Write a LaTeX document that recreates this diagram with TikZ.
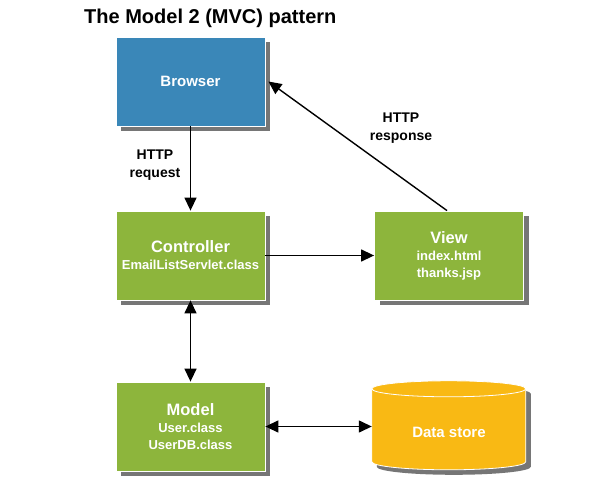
\documentclass[tikz,border=0pt]{standalone}
\usepackage{fontspec}
\setmainfont{Liberation Sans}
\usetikzlibrary{arrows.meta,shadows}
\definecolor{bblue}{HTML}{3A87B8}
\definecolor{bgreen}{HTML}{8DB53C}
\definecolor{byellow}{HTML}{F9B914}
\definecolor{shadowgray}{HTML}{5E5E5E}
\tikzset{
  boxstyle/.style={minimum width=149pt, minimum height=89pt, inner sep=0pt, draw=white, line width=0.8pt,
    align=center, text=white, font=\bfseries\fontsize{13}{17}\selectfont,
    drop shadow={shadow xshift=5pt, shadow yshift=-5pt, fill=shadowgray, opacity=0.85}},
  hd/.style={font=\bfseries\fontsize{16.5}{20}\selectfont},
  arr/.style={line width=1.4pt, -{Triangle[length=13pt,width=12pt]}},
  darr/.style={line width=1.4pt, {Triangle[length=13pt,width=12pt]}-{Triangle[length=13pt,width=12pt]}},
  lbl/.style={font=\bfseries\fontsize{14}{18}\selectfont, align=center}
}
\begin{document}
\begin{tikzpicture}[x=1pt,y=-1pt]
\useasboundingbox (0,0) rectangle (597,497);
\node[font=\bfseries\fontsize{20}{24}\selectfont, anchor=west, inner sep=0pt] (title) at (84,18) {The Model 2 (MVC) pattern};
\node[boxstyle, fill=bblue] (browser) at (190.5,81.5) {\fontsize{15}{18}\selectfont Browser};
\node[boxstyle, fill=bgreen] (ctrl) at (190.5,255.5) {{\fontsize{16.5}{20}\selectfont Controller}\\EmailListServlet.class};
\node[boxstyle, fill=bgreen] (view) at (449,255.5) {{\fontsize{16.5}{18}\selectfont View}\\index.html\\thanks.jsp};
\node[boxstyle, fill=bgreen] (model) at (190.5,426.5) {{\fontsize{16.5}{18}\selectfont Model}\\User.class\\UserDB.class};
% data store cylinder
\node[minimum width=154pt, minimum height=89pt, inner sep=0pt] (ds) at (449,425.5) {};
\fill[shadowgray, opacity=0.85] ([xshift=5pt,yshift=-5pt]ds.north west) ++(0,8) -- ++(0,73)
  arc[start angle=180, end angle=0, x radius=77, y radius=8] -- ++(0,-73)
  arc[start angle=0, end angle=-180, x radius=77, y radius=8] -- cycle;
\draw[white, line width=0.8pt, fill=byellow] (ds.north west) ++(0,8) -- ++(0,73)
  arc[start angle=180, end angle=0, x radius=77, y radius=8] -- ++(0,-73)
  arc[start angle=0, end angle=-180, x radius=77, y radius=8] -- cycle;
\draw[white, line width=0.8pt] (ds.north west) ++(0,8) arc[start angle=180, end angle=0, x radius=77, y radius=8];
\node[text=white, font=\bfseries\fontsize{15}{18}\selectfont] (dslabel) at (449,432) {Data store};
% connectors
\draw[arr] (browser.south) -- (ctrl.north);
\node[lbl] (req) at (155,165) {HTTP\\request};
\draw[arr] ([xshift=-2pt]view.north) -- ([xshift=3pt]browser.east);
\node[lbl] (resp) at (401,128) {HTTP\\response};
\draw[arr] (ctrl.east) -- (view.west);
\draw[darr] (ctrl.south) -- (model.north);
\draw[darr] (model.east) -- (ds.west |- model.east);
\end{tikzpicture}
\end{document}
